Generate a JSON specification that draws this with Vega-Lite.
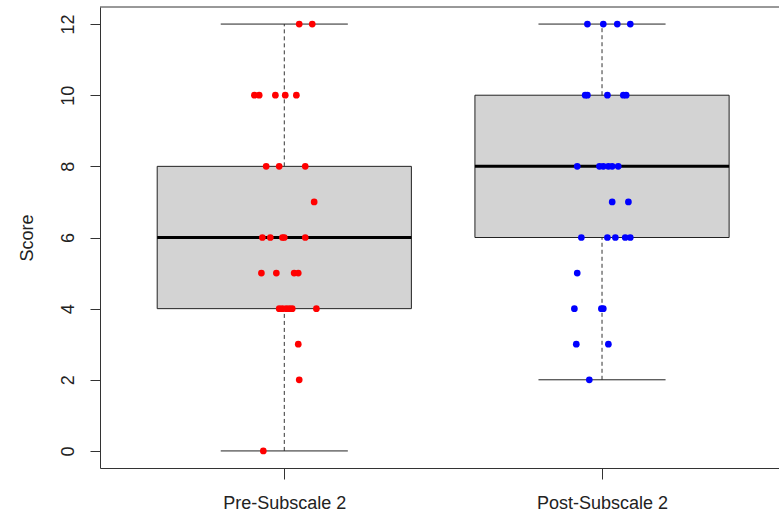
{
  "$schema": "https://vega.github.io/schema/vega-lite/v6.json",
  "width": 679,
  "height": 461,
  "autosize": {"type": "none"},
  "padding": {"left": 100, "top": 7, "right": 0, "bottom": 48},
  "background": "white",
  "config": {
    "view": {"stroke": null},
    "font": "Liberation Sans",
    "axis": {
      "grid": false,
      "labelFont": "Liberation Sans",
      "labelFontSize": 18,
      "labelColor": "#222222",
      "titleFont": "Liberation Sans",
      "titleFontSize": 18,
      "titleFontWeight": "normal",
      "titleColor": "#222222",
      "domainColor": "#333333",
      "tickColor": "#333333",
      "domainWidth": 1,
      "tickWidth": 1
    },
    "axisX": {
      "tickSize": 11,
      "labelPadding": 29,
      "labelBaseline": "alphabetic",
      "labelFlush": false,
      "labelOverlap": false
    },
    "axisY": {
      "tickSize": 10,
      "labelAngle": 270,
      "labelAlign": "center",
      "labelBaseline": "alphabetic",
      "labelPadding": 16.5,
      "labelFlush": false,
      "labelOverlap": false,
      "titleAngle": 270,
      "titleAlign": "center",
      "titleBaseline": "alphabetic",
      "titleX": -68,
      "titleY": 230.5
    }
  },
  "datasets": {
    "boxes": [
      {"g": 1, "lo": 0, "q1": 4, "med": 6, "q3": 8, "hi": 12},
      {"g": 2, "lo": 2, "q1": 6, "med": 8, "q3": 10, "hi": 12}
    ],
    "points": [
      {"group": "Pre", "x": 1.047, "score": 12},
      {"group": "Pre", "x": 1.088, "score": 12},
      {"group": "Pre", "x": 0.906, "score": 10},
      {"group": "Pre", "x": 0.921, "score": 10},
      {"group": "Pre", "x": 0.972, "score": 10},
      {"group": "Pre", "x": 1.003, "score": 10},
      {"group": "Pre", "x": 1.038, "score": 10},
      {"group": "Pre", "x": 0.943, "score": 8},
      {"group": "Pre", "x": 0.984, "score": 8},
      {"group": "Pre", "x": 1.066, "score": 8},
      {"group": "Pre", "x": 1.094, "score": 7},
      {"group": "Pre", "x": 0.931, "score": 6},
      {"group": "Pre", "x": 0.956, "score": 6},
      {"group": "Pre", "x": 0.994, "score": 6},
      {"group": "Pre", "x": 1.0, "score": 6},
      {"group": "Pre", "x": 1.066, "score": 6},
      {"group": "Pre", "x": 0.928, "score": 5},
      {"group": "Pre", "x": 0.975, "score": 5},
      {"group": "Pre", "x": 1.031, "score": 5},
      {"group": "Pre", "x": 1.044, "score": 5},
      {"group": "Pre", "x": 0.984, "score": 4},
      {"group": "Pre", "x": 0.994, "score": 4},
      {"group": "Pre", "x": 1.006, "score": 4},
      {"group": "Pre", "x": 1.016, "score": 4},
      {"group": "Pre", "x": 1.025, "score": 4},
      {"group": "Pre", "x": 1.101, "score": 4},
      {"group": "Pre", "x": 1.044, "score": 3},
      {"group": "Pre", "x": 1.047, "score": 2},
      {"group": "Pre", "x": 0.934, "score": 0},
      {"group": "Post", "x": 1.954, "score": 12},
      {"group": "Post", "x": 2.004, "score": 12},
      {"group": "Post", "x": 2.048, "score": 12},
      {"group": "Post", "x": 2.089, "score": 12},
      {"group": "Post", "x": 1.947, "score": 10},
      {"group": "Post", "x": 1.954, "score": 10},
      {"group": "Post", "x": 2.017, "score": 10},
      {"group": "Post", "x": 2.067, "score": 10},
      {"group": "Post", "x": 2.076, "score": 10},
      {"group": "Post", "x": 1.922, "score": 8},
      {"group": "Post", "x": 1.992, "score": 8},
      {"group": "Post", "x": 2.004, "score": 8},
      {"group": "Post", "x": 2.020, "score": 8},
      {"group": "Post", "x": 2.032, "score": 8},
      {"group": "Post", "x": 2.051, "score": 8},
      {"group": "Post", "x": 2.032, "score": 7},
      {"group": "Post", "x": 2.083, "score": 7},
      {"group": "Post", "x": 1.935, "score": 6},
      {"group": "Post", "x": 2.017, "score": 6},
      {"group": "Post", "x": 2.042, "score": 6},
      {"group": "Post", "x": 2.073, "score": 6},
      {"group": "Post", "x": 2.089, "score": 6},
      {"group": "Post", "x": 1.922, "score": 5},
      {"group": "Post", "x": 1.913, "score": 4},
      {"group": "Post", "x": 1.998, "score": 4},
      {"group": "Post", "x": 2.004, "score": 4},
      {"group": "Post", "x": 1.919, "score": 3},
      {"group": "Post", "x": 2.020, "score": 3},
      {"group": "Post", "x": 1.960, "score": 2}
    ],
    "frame": [
      {"edge": 12.48}
    ]
  },
  "layer": [
    {
      "data": {"name": "boxes"},
      "transform": [
        {"calculate": "datum.g - 0.4", "as": "b0"},
        {"calculate": "datum.g + 0.4", "as": "b1"}
      ],
      "mark": {"type": "rect", "fill": "#D3D3D3", "stroke": "#222222", "strokeWidth": 1},
      "encoding": {
        "x": {
          "field": "b0", "type": "quantitative", "title": null,
          "scale": {"domain": [0.42, 2.557], "nice": false, "zero": false},
          "axis": {
            "values": [1, 2],
            "labelExpr": "datum.value == 1 ? 'Pre-Subscale 2' : 'Post-Subscale 2'"
          }
        },
        "x2": {"field": "b1"},
        "y": {
          "field": "q1", "type": "quantitative", "title": "Score",
          "scale": {"domain": [-0.48, 12.48], "nice": false, "zero": false},
          "axis": {"values": [0, 2, 4, 6, 8, 10, 12]}
        },
        "y2": {"field": "q3"}
      }
    },
    {
      "data": {"name": "boxes"},
      "mark": {"type": "rule", "stroke": "#333333", "strokeWidth": 1, "strokeDash": [4, 3]},
      "encoding": {
        "x": {"field": "g", "type": "quantitative", "title": null},
        "y": {"field": "lo", "type": "quantitative", "title": "Score"},
        "y2": {"field": "q1"}
      }
    },
    {
      "data": {"name": "boxes"},
      "mark": {"type": "rule", "stroke": "#333333", "strokeWidth": 1, "strokeDash": [4, 3]},
      "encoding": {
        "x": {"field": "g", "type": "quantitative", "title": null},
        "y": {"field": "q3", "type": "quantitative", "title": "Score"},
        "y2": {"field": "hi"}
      }
    },
    {
      "data": {"name": "boxes"},
      "transform": [
        {"calculate": "datum.g - 0.2", "as": "c0"},
        {"calculate": "datum.g + 0.2", "as": "c1"}
      ],
      "mark": {"type": "rule", "stroke": "#222222", "strokeWidth": 1},
      "encoding": {
        "x": {"field": "c0", "type": "quantitative", "title": null},
        "x2": {"field": "c1"},
        "y": {"field": "lo", "type": "quantitative", "title": "Score"}
      }
    },
    {
      "data": {"name": "boxes"},
      "transform": [
        {"calculate": "datum.g - 0.2", "as": "c0"},
        {"calculate": "datum.g + 0.2", "as": "c1"}
      ],
      "mark": {"type": "rule", "stroke": "#222222", "strokeWidth": 1},
      "encoding": {
        "x": {"field": "c0", "type": "quantitative", "title": null},
        "x2": {"field": "c1"},
        "y": {"field": "hi", "type": "quantitative", "title": "Score"}
      }
    },
    {
      "data": {"name": "boxes"},
      "transform": [
        {"calculate": "datum.g - 0.4", "as": "b0"},
        {"calculate": "datum.g + 0.4", "as": "b1"}
      ],
      "mark": {"type": "rule", "stroke": "#000000", "strokeWidth": 3},
      "encoding": {
        "x": {"field": "b0", "type": "quantitative", "title": null},
        "x2": {"field": "b1"},
        "y": {"field": "med", "type": "quantitative", "title": "Score"}
      }
    },
    {
      "data": {"name": "points"},
      "mark": {"type": "circle", "size": 45, "opacity": 1},
      "encoding": {
        "x": {"field": "x", "type": "quantitative", "title": null},
        "y": {"field": "score", "type": "quantitative", "title": "Score"},
        "color": {
          "field": "group", "type": "nominal",
          "scale": {"domain": ["Pre", "Post"], "range": ["#FF0000", "#0000FF"]},
          "legend": null
        }
      }
    },
    {
      "data": {"name": "frame"},
      "mark": {"type": "rule", "stroke": "#333333", "strokeWidth": 1},
      "encoding": {
        "y": {"field": "edge", "type": "quantitative", "title": "Score"}
      }
    }
  ]
}
